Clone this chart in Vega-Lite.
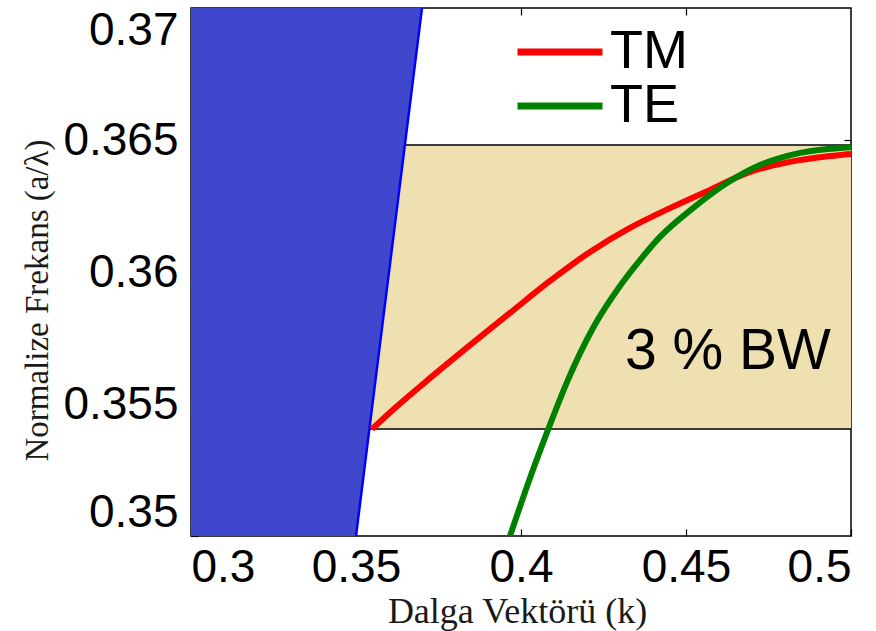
{
  "$schema": "https://vega.github.io/schema/vega-lite/v6.json",
  "width": 660,
  "height": 528,
  "autosize": "none",
  "padding": {"left": 191, "top": 8, "right": 25, "bottom": 95},
  "background": "white",
  "config": {
    "view": {"stroke": "#000000", "strokeWidth": 1.5},
    "axis": {
      "labelFont": "Liberation Sans",
      "labelFontSize": 46,
      "labelColor": "#000000",
      "titleFont": "Liberation Serif",
      "titleFontWeight": "normal",
      "titleColor": "#1a1a1a",
      "grid": false,
      "domain": false,
      "tickColor": "#000000",
      "tickSize": 7,
      "tickWidth": 1.2,
      "offset": -7,
      "zindex": 1
    }
  },
  "datasets": {
    "curves": [
      {"mode": "TM", "k": 0.35485, "f": 0.35405},
      {"mode": "TM", "k": 0.36182, "f": 0.35485},
      {"mode": "TM", "k": 0.37242, "f": 0.35598},
      {"mode": "TM", "k": 0.38455, "f": 0.35723},
      {"mode": "TM", "k": 0.39667, "f": 0.35845},
      {"mode": "TM", "k": 0.40879, "f": 0.35966},
      {"mode": "TM", "k": 0.42091, "f": 0.36076},
      {"mode": "TM", "k": 0.43303, "f": 0.36167},
      {"mode": "TM", "k": 0.44515, "f": 0.36242},
      {"mode": "TM", "k": 0.45727, "f": 0.36311},
      {"mode": "TM", "k": 0.46939, "f": 0.36379},
      {"mode": "TM", "k": 0.48152, "f": 0.36417},
      {"mode": "TM", "k": 0.49364, "f": 0.36439},
      {"mode": "TM", "k": 0.50000, "f": 0.36447},
      {"mode": "TE", "k": 0.39667, "f": 0.35000},
      {"mode": "TE", "k": 0.40273, "f": 0.35220},
      {"mode": "TE", "k": 0.40818, "f": 0.35402},
      {"mode": "TE", "k": 0.41394, "f": 0.35583},
      {"mode": "TE", "k": 0.42182, "f": 0.35788},
      {"mode": "TE", "k": 0.43000, "f": 0.35947},
      {"mode": "TE", "k": 0.43606, "f": 0.36045},
      {"mode": "TE", "k": 0.44212, "f": 0.36133},
      {"mode": "TE", "k": 0.45212, "f": 0.36242},
      {"mode": "TE", "k": 0.46242, "f": 0.36337},
      {"mode": "TE", "k": 0.47242, "f": 0.36405},
      {"mode": "TE", "k": 0.48455, "f": 0.36451},
      {"mode": "TE", "k": 0.50000, "f": 0.36473}
    ],
    "lightline": [
      {"k": 0.35, "f": 0.35, "kmin": 0.3},
      {"k": 0.37, "f": 0.37, "kmin": 0.3}
    ],
    "band": [
      {"k1": 0.3, "k2": 0.5, "f1": 0.35405, "f2": 0.36481}
    ],
    "bandEdges": [
      {"f": 0.35405},
      {"f": 0.36481}
    ],
    "note": [
      {"k": 0.4627, "f": 0.35697, "label": "3 % BW"}
    ]
  },
  "resolve": {"axis": {"x": "independent", "y": "independent"}},
  "layer": [
    {
      "data": {"name": "band"},
      "mark": {"type": "rect", "fill": "#eee0b0"},
      "encoding": {
        "x": {"field": "k1", "type": "quantitative", "scale": {"domain": [0.3, 0.5], "nice": false, "zero": false},
          "axis": {"orient": "top", "values": [0.35, 0.4, 0.45], "labels": false, "title": null}},
        "x2": {"field": "k2"},
        "y": {"field": "f1", "type": "quantitative", "scale": {"domain": [0.35, 0.37], "nice": false, "zero": false},
          "axis": {"orient": "right", "values": [0.355, 0.36, 0.365], "labels": false, "title": null}},
        "y2": {"field": "f2"}
      }
    },
    {
      "data": {"name": "bandEdges"},
      "mark": {"type": "rule", "color": "#000000", "strokeWidth": 1.5},
      "encoding": {
        "y": {"field": "f", "type": "quantitative", "axis": null}
      }
    },
    {
      "data": {"name": "lightline"},
      "mark": {"type": "area", "orient": "horizontal", "color": "#3f48cc", "opacity": 1},
      "encoding": {
        "y": {"field": "f", "type": "quantitative", "axis": null},
        "x": {"field": "k", "type": "quantitative", "axis": null},
        "x2": {"field": "kmin"}
      }
    },
    {
      "data": {"name": "lightline"},
      "mark": {"type": "line", "color": "#0000ff", "strokeWidth": 2.5},
      "encoding": {
        "y": {"field": "f", "type": "quantitative", "axis": null},
        "x": {"field": "k", "type": "quantitative", "axis": null}
      }
    },
    {
      "data": {"name": "curves"},
      "mark": {"type": "line", "strokeWidth": 6, "interpolate": "monotone", "clip": true},
      "encoding": {
        "x": {"field": "k", "type": "quantitative",
          "axis": {"orient": "bottom", "values": [0.3, 0.35, 0.4, 0.45, 0.5], "format": "~g", "labelPadding": 9, "labelFlush": true,
            "title": "Dalga Vektörü (k)", "titleFontSize": 36, "titleX": 326, "titlePadding": 4}},
        "y": {"field": "f", "type": "quantitative",
          "axis": {"orient": "left", "values": [0.35, 0.355, 0.36, 0.365, 0.37], "format": "~g", "labelPadding": 13, "labelFlush": true,
            "title": "Normalize Frekans (a/λ)", "titleFontSize": 33, "titleY": 292, "titleX": -151, "titleBaseline": "alphabetic", "titleAlign": "center"}},
        "color": {"field": "mode", "type": "nominal",
          "scale": {"domain": ["TM", "TE"], "range": ["#ff0000", "#008000"]},
          "legend": {"orient": "none", "legendX": 342, "legendY": 17, "title": null,
            "symbolType": "M-2,0H2", "symbolSize": 1806, "symbolStrokeWidth": 7,
            "labelFont": "Liberation Sans", "labelFontSize": 54, "labelColor": "#000000",
            "labelOffset": 23, "rowPadding": 0}},
        "order": {"field": "k", "type": "quantitative"}
      }
    },
    {
      "data": {"name": "note"},
      "mark": {"type": "text", "font": "Liberation Sans", "fontSize": 57, "color": "#000000", "align": "center", "baseline": "middle"},
      "encoding": {
        "x": {"field": "k", "type": "quantitative", "axis": null},
        "y": {"field": "f", "type": "quantitative", "axis": null},
        "text": {"field": "label"}
      }
    }
  ]
}
